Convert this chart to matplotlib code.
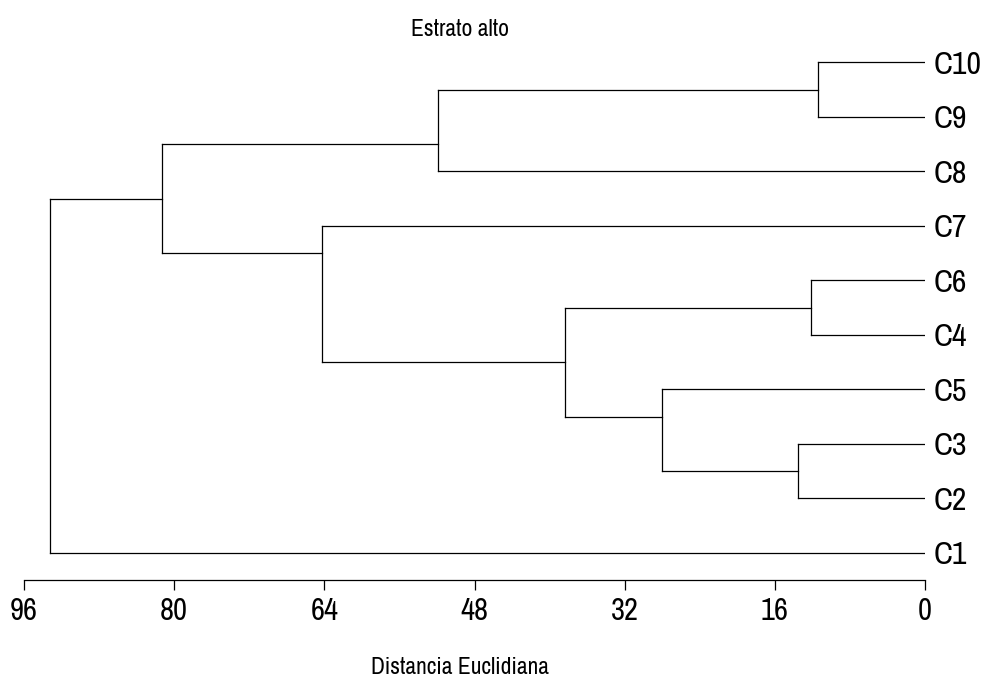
import matplotlib
matplotlib.use("Agg")
import matplotlib.pyplot as plt

plt.rcParams["font.family"] = ["Archivo Narrow", "Liberation Sans", "DejaVu Sans"]

# leaf order, top to bottom
LEAVES = ["C10", "C9", "C8", "C7", "C6", "C4", "C5", "C3", "C2", "C1"]

# merges: (upper child, lower child, distance); ints >= 100 refer to earlier merges
MERGE_UPPER = ["C10", "C6", "C3", "C5", 101, 100, "C7", 105, 107]
MERGE_LOWER = ["C9", "C4", "C2", 102, 103, "C8", 104, 106, "C1"]
MERGE_DIST = [11.4, 12.1, 13.5, 28.0, 38.4, 51.9, 64.3, 81.3, 93.2]

TICKS = [96, 80, 64, 48, 32, 16, 0]


def node_info(ref, nodes):
    if isinstance(ref, str):
        i = LEAVES.index(ref)
        return i, i, i, 0.0
    return nodes[ref - 100]


fig = plt.figure(figsize=(9.93, 6.81), dpi=100)
ax = fig.add_axes([24 / 993, 101 / 681, (925 - 24) / 993, 545 / 681])

nodes = []
for up, lo, d in zip(MERGE_UPPER, MERGE_LOWER, MERGE_DIST):
    a_first, a_last, a_y, a_d = node_info(up, nodes)
    b_first, b_last, b_y, b_d = node_info(lo, nodes)
    # children stems
    ax.plot([a_d, d], [a_y, a_y], color="black", lw=0.9)
    ax.plot([b_d, d], [b_y, b_y], color="black", lw=0.9)
    ax.plot([d, d], [a_y, b_y], color="black", lw=0.9)
    # joint sits in the gap between the two groups
    y = (a_last + b_first) / 2
    nodes.append((a_first, b_last, y, d))

ax.set_xlim(96, 0)
ax.set_ylim(len(LEAVES) - 0.5, -0.5)

for s in ["top", "left", "right"]:
    ax.spines[s].set_visible(False)
ax.spines["bottom"].set_bounds(0, 96)
ax.spines["bottom"].set_linewidth(0.9)

ax.set_xticks(TICKS)
ax.set_xticklabels([str(t) for t in TICKS], fontsize=22)
ax.tick_params(axis="x", direction="out", length=7, width=0.9, pad=5)

ax.yaxis.tick_right()
ax.set_yticks(range(len(LEAVES)))
ax.set_yticklabels(LEAVES, fontsize=23)
ax.tick_params(axis="y", length=0, pad=6)

fig.text(460 / 993, 1 - 30 / 681, "Estrato alto", ha="center", va="center", fontsize=17)
fig.text(460 / 993, 1 - 667 / 681, "Distancia Euclidiana", ha="center", va="center", fontsize=17)

fig.savefig("out.png", dpi=100)
